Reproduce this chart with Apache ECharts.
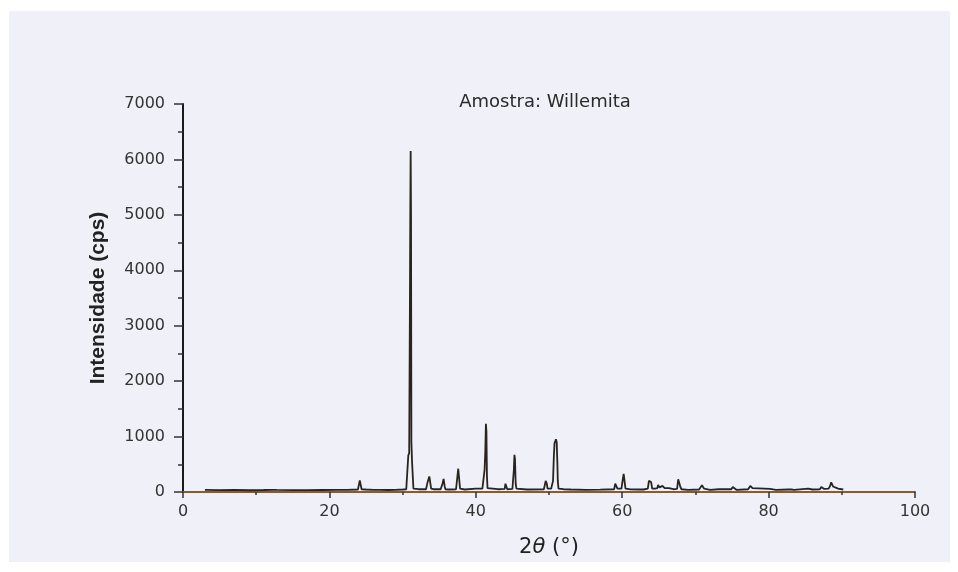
<!DOCTYPE html>
<html>
<head>
<meta charset="utf-8">
<script src="https://cdn.jsdelivr.net/npm/echarts@6/dist/echarts.min.js"></script>
<style>
html,body{margin:0;padding:0;background:#ffffff;}
#chart{width:958px;height:572px;}
</style>
</head>
<body>
<div id="chart"></div>
<script>
// Data
const chartTitle = 'Amostra: Willemita';
const xTicks = [0, 20, 40, 60, 80, 100];
const yTicks = [0, 1000, 2000, 3000, 4000, 5000, 6000, 7000];
const twoTheta = [
  3.0, 5.0, 7.0, 9.0, 11.0, 12.4, 12.6, 12.8, 15.0, 17.0, 19.0, 21.0, 22.0, 22.2, 22.4, 23.9, 24.05, 24.15, 24.3, 24.4, 25.0, 26.0, 27.0, 28.0, 29.0, 30.0,
  30.5, 30.7, 30.78, 30.9, 31.0, 31.05, 31.1, 31.15, 31.2, 31.3, 31.4, 31.48, 32.2,
  33.2, 33.3, 33.4, 33.55, 33.65, 33.8, 33.9, 34.2, 35.2, 35.35, 35.45, 35.6, 35.75, 35.85, 36.3, 37.3, 37.5, 37.6, 37.75, 37.85, 38.5,
  40.0, 40.9, 41.1, 41.2, 41.3, 41.38, 41.45, 41.52, 41.6, 43.0, 43.95, 44.05, 44.2, 44.3, 45.0, 45.1, 45.2, 45.28, 45.35, 45.45, 45.55, 47.0,
  49.3, 49.45, 49.55, 49.7, 49.8, 50.3, 50.4, 50.55, 50.65, 50.75, 50.85, 50.95, 51.05, 51.15, 51.2, 51.3, 52.0, 53.0, 55.0, 57.0,
  58.9, 59.05, 59.2, 59.35, 59.5, 59.9, 60.05, 60.2, 60.35, 60.45, 61.0, 62.5, 62.7, 62.9, 63.5, 63.65, 63.8, 63.95, 64.1, 64.5, 64.8, 64.9, 65.1, 65.3, 65.5, 65.6, 65.8, 66.0, 66.4, 66.5, 66.7, 67.0, 67.5, 67.65, 67.8, 67.95, 68.1, 69.0,
  70.5, 70.9, 71.0, 71.2, 71.4, 72.0, 73.2, 73.4, 73.6, 73.8, 74.9, 75.1, 75.3, 75.6, 77.2, 77.5, 77.8, 78.0, 80.2, 81.0, 82.7, 82.9, 83.1, 83.5, 85.4, 86.0, 87.0, 87.2, 87.4, 87.6, 88.2, 88.4, 88.55, 88.8, 89.5, 90.2
];
const intensity = [
  40, 35, 38, 32, 36, 40, 60, 38, 35, 33, 36, 38, 40, 70, 40, 45, 50, 210, 200, 50, 45, 40, 38, 36, 40, 45,
  50, 60, 660, 700, 3400, 5000, 6150, 5000, 900, 520, 500, 60, 50,
  50, 60, 170, 200, 280, 250, 60, 50, 50, 55, 150, 235, 100, 50, 45, 50, 55, 420, 430, 60, 45,
  60, 60, 70, 400, 730, 1230, 1100, 300, 70, 50, 55, 150, 140, 50, 55, 60, 400, 670, 600, 150, 60, 45,
  50, 55, 200, 150, 60, 60, 120, 200, 600, 880, 900, 950, 900, 500, 200, 60, 50, 45, 40, 42,
  50, 150, 155, 60, 55, 60, 200, 325, 300, 60, 50, 45, 70, 45, 60, 200, 235, 180, 60, 60, 70, 125, 80, 70, 110, 120, 70, 60, 70, 100, 60, 50, 55, 230, 260, 90, 50, 40,
  45, 120, 130, 60, 45, 40, 50, 75, 50, 40, 50, 90, 60, 40, 50, 110, 70, 45, 55, 40, 45, 70, 45, 40, 60, 45, 50, 90, 60, 55, 60, 110, 175, 100, 60, 45
];

const seriesData = twoTheta.map((t, i) => [t, intensity[i]]);

const chart = echarts.init(document.getElementById('chart'), null, {renderer: 'canvas'});
const font = '"DejaVu Sans", "Liberation Sans", Arial, sans-serif';
const fontL = '"Liberation Sans", Arial, sans-serif';
chart.setOption({
  backgroundColor: '#ffffff',
  animation: false,
  graphic: [{
    type: 'rect', z: -10, silent: true,
    shape: {x: 9, y: 11, width: 941, height: 551},
    style: {fill: '#eff0f8'}
  }],
  title: {
    text: chartTitle,
    left: 540, top: 88, textAlign: 'center',
    textStyle: {fontFamily: font, fontSize: 18, fontWeight: 'normal', color: '#2a2a2a'}
  },
  grid: {left: 183, right: 43, top: 104, bottom: 80, containLabel: false},
  xAxis: {
    type: 'value', min: 0, max: 100, interval: 20,
    name: '2{i|θ} (°)',
    nameLocation: 'middle', nameGap: 45,
    nameTextStyle: {
      fontFamily: font, fontSize: 21, color: '#222',
      rich: {i: {fontFamily: font, fontSize: 21, fontStyle: 'italic', color: '#222'}}
    },
    axisLine: {show: true, lineStyle: {color: '#8a5a30', width: 2}},
    axisTick: {show: true, inside: false, length: 6, lineStyle: {color: '#333', width: 1.5}},
    minorTick: {show: true, splitNumber: 2, length: 3, lineStyle: {color: '#333', width: 1.5}},
    axisLabel: {fontFamily: font, fontSize: 16, color: '#333', margin: 12,
      formatter: v => xTicks.includes(v) ? String(v) : ''},
    splitLine: {show: false}
  },
  yAxis: {
    type: 'value', min: 0, max: 7000, interval: 1000,
    name: 'Intensidade (cps)',
    nameLocation: 'middle', nameGap: 74, nameRotate: 90,
    nameTextStyle: {fontFamily: fontL, fontSize: 21, fontWeight: 'bold', color: '#222'},
    axisLine: {show: true, lineStyle: {color: '#1a1a1a', width: 2}},
    axisTick: {show: true, inside: false, length: 9, lineStyle: {color: '#333', width: 1.5}},
    minorTick: {show: true, splitNumber: 2, length: 5, lineStyle: {color: '#333', width: 1.5}},
    axisLabel: {fontFamily: font, fontSize: 16, color: '#333', margin: 18,
      formatter: v => yTicks.includes(v) ? String(v) : ''},
    splitLine: {show: false}
  },
  series: [{
    type: 'line',
    data: seriesData,
    symbol: 'none',
    lineStyle: {color: '#2b241c', width: 1.8},
    z: 3
  }]
});
</script>
</body>
</html>
